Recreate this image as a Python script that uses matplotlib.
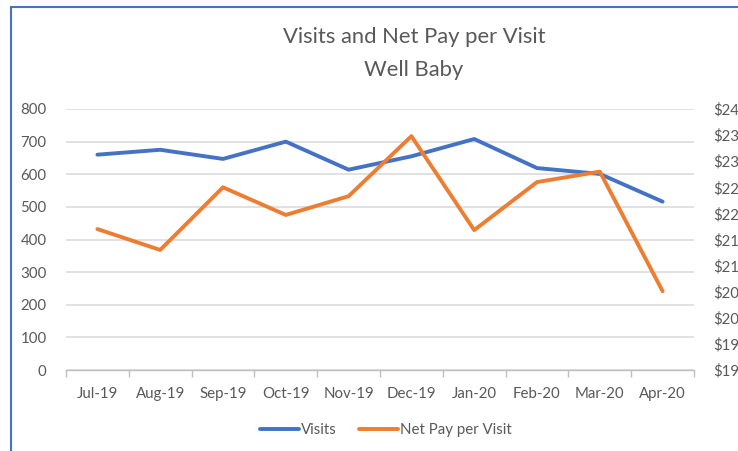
import matplotlib
matplotlib.use("Agg")
import matplotlib.pyplot as plt
from matplotlib.lines import Line2D
import numpy as np

months = ["Jul-19", "Aug-19", "Sep-19", "Oct-19", "Nov-19",
          "Dec-19", "Jan-20", "Feb-20", "Mar-20", "Apr-20"]
visits = [660, 675, 647, 700, 614, 655, 708, 619, 601, 516]
net_pay = [217.0, 213.0, 225.0, 219.7, 223.3, 234.8, 216.8, 226.0, 228.0, 205.1]

left_ticks = list(range(0, 801, 100))
right_ticks = list(range(190, 241, 5))

plt.rcParams['font.family'] = ['Lato', 'DejaVu Sans']
text_col = "#595959"
grid_col = "#d9d9d9"
blue = "#4472C4"
orange = "#ED7D31"

W, H = 738, 451
fig = plt.figure(figsize=(W / 100, H / 100), dpi=100)

# plot area in pixel coords of the reference
x0, x1, ytop, ybot = 66, 694, 109, 370
ax = fig.add_axes([x0 / W, 1 - ybot / H, (x1 - x0) / W, (ybot - ytop) / H])
ax2 = ax.twinx()

x = np.arange(len(months))
ax.set_xlim(-0.5, len(months) - 0.5)
ax.set_ylim(0, 800)
ax2.set_ylim(190, 240)

ax.set_yticks(left_ticks)
ax.set_yticklabels([str(v) for v in left_ticks])
ax2.set_yticks(right_ticks)
ax2.set_yticklabels(["$%d" % v for v in right_ticks])

ax.grid(axis="y", color=grid_col, lw=1.1)
ax.set_axisbelow(True)

ax.set_xticks(x)
ax.set_xticklabels(months)
ax.set_xticks(np.arange(-0.5, len(months), 1), minor=True)
ax.tick_params(axis="x", which="major", length=0, pad=12, labelsize=10.8, labelcolor=text_col)
ax.tick_params(axis="x", which="minor", length=5, color="#bfbfbf", width=1)
ax.tick_params(axis="y", length=0, pad=14, labelsize=10.8, labelcolor=text_col)
ax2.tick_params(axis="y", length=0, pad=14, labelsize=10.8, labelcolor=text_col)

for a in (ax, ax2):
    for s in a.spines.values():
        s.set_visible(False)
ax.spines["bottom"].set_visible(True)
ax.spines["bottom"].set_color("#bfbfbf")
ax.spines["bottom"].set_linewidth(1)

ax.plot(x, visits, color=blue, lw=2.8, solid_capstyle="round", solid_joinstyle="round", zorder=3)
ax2.plot(x, net_pay, color=orange, lw=2.8, solid_capstyle="round", solid_joinstyle="round", zorder=3)

fig.text(414 / W, 1 - 37 / H, "Visits and Net Pay per Visit", ha="center", va="center",
         fontsize=15.8, color=text_col)
fig.text(414 / W, 1 - 70 / H, "Well Baby", ha="center", va="center",
         fontsize=15.8, color=text_col)

handles = [Line2D([], [], color=blue, lw=2.8, solid_capstyle="round"),
           Line2D([], [], color=orange, lw=2.8, solid_capstyle="round")]
fig.legend(handles, ["Visits", "Net Pay per Visit"], loc="center",
           bbox_to_anchor=(386 / W, 1 - 430 / H), ncol=2, frameon=False,
           fontsize=10.8, labelcolor=text_col, handlelength=2.6, handletextpad=0.15,
           columnspacing=1.5)

# blue outer frame (left and top edges visible)
fig.add_artist(Line2D([11 / W, 11 / W], [0, 1 - 7 / H], color=blue, lw=1.5, transform=fig.transFigure))
fig.add_artist(Line2D([11 / W, 1], [1 - 7 / H, 1 - 7 / H], color=blue, lw=1.5, transform=fig.transFigure))

fig.savefig("out.png", dpi=100)
